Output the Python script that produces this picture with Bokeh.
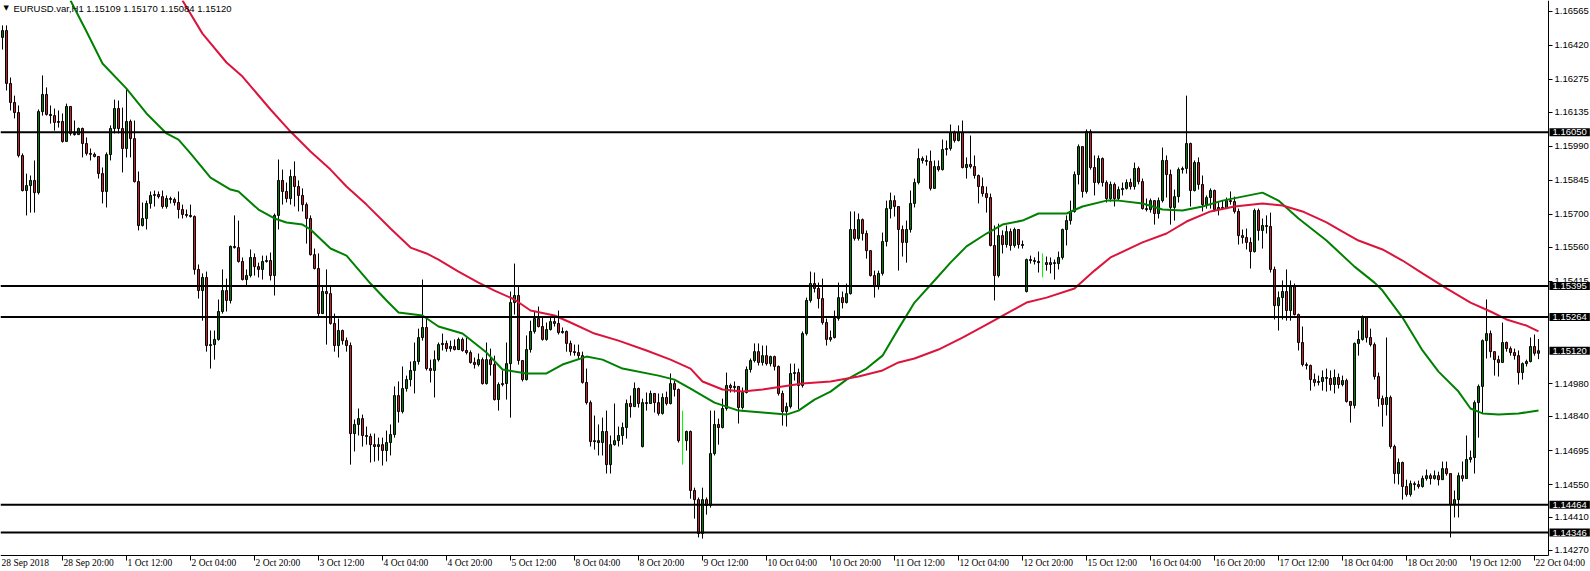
from bokeh.plotting import figure
from bokeh.models import ColumnDataSource, FixedTicker, Label, LabelSet
from bokeh.embed import file_html
from bokeh.resources import INLINE

# ---------------- data (EURUSD H1) ----------------
first_open = 1.16454
open_gaps = {160: 1.14712, 256: 1.15372}

closes = [
1.16483,1.16258,1.16177,1.16134,1.15951,1.15802,1.15823,1.15845,1.15793,1.16138,
1.16211,1.16126,1.16121,1.16092,1.16096,1.16011,1.16160,1.16045,1.16040,1.16066,
1.16002,1.15960,1.15956,1.15947,1.15874,1.15798,1.15955,1.16066,1.16151,1.16066,
1.15981,1.16096,1.16023,1.15840,1.15653,1.15683,1.15747,1.15781,1.15785,1.15776,
1.15734,1.15768,1.15764,1.15751,1.15721,1.15700,1.15696,1.15691,1.15466,1.15376,
1.15432,1.15142,1.15146,1.15168,1.15287,1.15376,1.15334,1.15564,1.15559,1.15500,
1.15423,1.15440,1.15517,1.15478,1.15466,1.15500,1.15504,1.15440,1.15696,1.15845,
1.15798,1.15768,1.15862,1.15819,1.15781,1.15742,1.15683,1.15529,1.15470,1.15278,
1.15372,1.15363,1.15236,1.15142,1.15206,1.15163,1.15142,1.14767,1.14806,1.14831,
1.14759,1.14755,1.14720,1.14712,1.14720,1.14695,1.14729,1.14763,1.14929,1.14861,
1.14959,1.14997,1.15036,1.15074,1.15176,1.15219,1.15044,1.15036,1.15082,1.15146,
1.15151,1.15129,1.15138,1.15125,1.15168,1.15121,1.15112,1.15070,1.15061,1.15082,
1.14980,1.15082,1.15061,1.14912,1.14976,1.14980,1.15065,1.15325,1.15355,1.15078,
1.14997,1.15125,1.15202,1.15257,1.15223,1.15168,1.15210,1.15244,1.15236,1.15197,
1.15202,1.15151,1.15116,1.15112,1.15099,1.14985,1.14899,1.14733,1.14737,1.14729,
1.14776,1.14635,1.14720,1.14737,1.14759,1.14793,1.14895,1.14882,1.14959,1.14895,
1.14899,1.14895,1.14938,1.14899,1.14853,1.14921,1.14895,1.14980,1.14955,1.14737,
1.14737,1.14776,1.14525,1.14486,1.14342,1.14486,1.14461,1.14682,1.14806,1.14793,
1.14874,1.14972,1.14963,1.14968,1.14878,1.14942,1.15040,1.15078,1.15116,1.15070,
1.15099,1.15065,1.15095,1.15053,1.14938,1.14861,1.14882,1.15023,1.15027,1.14972,
1.15193,1.15334,1.15406,1.15385,1.15342,1.15240,1.15168,1.15176,1.15257,1.15346,
1.15325,1.15363,1.15636,1.15598,1.15678,1.15619,1.15546,1.15440,1.15393,1.15449,
1.15585,1.15725,1.15759,1.15734,1.15636,1.15581,1.15636,1.15747,1.15836,1.15938,
1.15930,1.15926,1.15811,1.15904,1.15891,1.15977,1.15981,1.16049,1.16015,1.16049,
1.15900,1.15913,1.15904,1.15866,1.15819,1.15789,1.15772,1.15568,1.15440,1.15610,
1.15572,1.15627,1.15568,1.15636,1.15572,1.15568,1.15508,1.15504,1.15500,1.15495,
1.15495,1.15487,1.15495,1.15491,1.15517,1.15636,1.15674,1.15713,1.15870,1.15989,
1.15798,1.16053,1.15900,1.15836,1.15938,1.15836,1.15768,1.15828,1.15768,1.15806,
1.15811,1.15836,1.15819,1.15896,1.15840,1.15725,1.15721,1.15759,1.15704,1.15759,
1.15930,1.15870,1.15730,1.15776,1.15891,1.15896,1.16002,1.15802,1.15921,1.15828,
1.15742,1.15772,1.15802,1.15721,1.15730,1.15725,1.15759,1.15755,1.15713,1.15610,
1.15602,1.15581,1.15542,1.15717,1.15632,1.15653,1.15649,1.15466,1.15312,1.15346,
1.15372,1.15291,1.15393,1.15274,1.15155,1.15061,1.15057,1.14997,1.14985,1.14989,
1.15006,1.15002,1.14976,1.15006,1.14976,1.14993,1.14904,1.14887,1.15151,1.15168,
1.15261,1.15176,1.15146,1.15010,1.14916,1.14891,1.14921,1.14712,1.14597,1.14644,
1.14542,1.14508,1.14554,1.14550,1.14542,1.14576,1.14588,1.14576,1.14588,1.14571,
1.14618,1.14597,1.14465,1.14486,1.14588,1.14576,1.14657,1.14665,1.14899,1.14968,
1.15163,1.15193,1.15116,1.15082,1.15070,1.15155,1.15129,1.15112,1.15099,1.15027,
1.15065,1.15074,1.15138,1.15109,1.15120]

highs = [
1.16505,1.16505,1.16283,1.16206,1.16164,1.15960,1.15874,1.15866,1.15930,1.16147,
1.16292,1.16241,1.16164,1.16151,1.16143,1.16130,1.16172,1.16160,1.16100,1.16070,
1.16070,1.16028,1.15981,1.15964,1.15943,1.15900,1.15964,1.16079,1.16189,1.16185,
1.16155,1.16236,1.16104,1.16100,1.15883,1.15751,1.15759,1.15798,1.15802,1.15798,
1.15802,1.15781,1.15776,1.15772,1.15798,1.15742,1.15721,1.15742,1.15696,1.15487,
1.15449,1.15457,1.15206,1.15206,1.15338,1.15466,1.15427,1.15568,1.15696,1.15674,
1.15517,1.15466,1.15551,1.15534,1.15495,1.15525,1.15525,1.15538,1.15704,1.15934,
1.15891,1.15836,1.15891,1.15926,1.15845,1.15811,1.15751,1.15696,1.15555,1.15534,
1.15393,1.15466,1.15393,1.15278,1.15257,1.15210,1.15176,1.15155,1.14827,1.14874,
1.14848,1.14797,1.14767,1.14767,1.14750,1.14750,1.14780,1.14806,1.14968,1.14989,
1.15053,1.15014,1.15074,1.15155,1.15214,1.15423,1.15261,1.15082,1.15121,1.15155,
1.15193,1.15163,1.15163,1.15168,1.15176,1.15176,1.15176,1.15121,1.15091,1.15108,
1.15091,1.15155,1.15129,1.15099,1.14985,1.15036,1.15155,1.15372,1.15491,1.15393,
1.15078,1.15185,1.15248,1.15287,1.15308,1.15261,1.15240,1.15261,1.15265,1.15291,
1.15219,1.15206,1.15163,1.15146,1.15146,1.15116,1.15044,1.14908,1.14844,1.14806,
1.14835,1.14865,1.14759,1.14895,1.14797,1.14814,1.14912,1.14929,1.14985,1.14963,
1.14916,1.14942,1.14950,1.14938,1.14938,1.14938,1.14946,1.15023,1.14993,1.14959,
1.14865,1.14780,1.14780,1.14537,1.14495,1.14537,1.14495,1.14865,1.14865,1.14831,
1.14916,1.15027,1.14980,1.14989,1.14968,1.14963,1.15053,1.15087,1.15151,1.15151,
1.15142,1.15142,1.15099,1.15099,1.15057,1.14950,1.14899,1.15065,1.15065,1.15044,
1.15202,1.15346,1.15457,1.15453,1.15410,1.15427,1.15257,1.15206,1.15291,1.15410,
1.15372,1.15406,1.15713,1.15713,1.15704,1.15683,1.15632,1.15546,1.15461,1.15461,
1.15623,1.15759,1.15793,1.15781,1.15734,1.15653,1.15674,1.15802,1.15853,1.15981,
1.15947,1.15951,1.15972,1.15930,1.15930,1.16019,1.16015,1.16083,1.16057,1.16079,
1.16100,1.15943,1.16036,1.15951,1.15870,1.15857,1.15819,1.15789,1.15653,1.15661,
1.15632,1.15653,1.15640,1.15644,1.15636,1.15589,1.15512,1.15525,1.15517,1.15542,
1.15534,1.15521,1.15517,1.15508,1.15542,1.15640,1.15696,1.15759,1.15883,1.15998,
1.15989,1.16062,1.16062,1.15951,1.15951,1.15943,1.15845,1.15840,1.15836,1.15819,
1.15836,1.15849,1.15853,1.15921,1.15904,1.15853,1.15768,1.15768,1.15742,1.15772,
1.15985,1.15951,1.15891,1.15806,1.15900,1.15904,1.16206,1.16006,1.15930,1.15943,
1.15866,1.15781,1.15811,1.15806,1.15751,1.15759,1.15772,1.15798,1.15776,1.15725,
1.15636,1.15640,1.15602,1.15725,1.15725,1.15683,1.15696,1.15708,1.15478,1.15372,
1.15419,1.15466,1.15419,1.15406,1.15278,1.15223,1.15070,1.15061,1.15023,1.15014,
1.15036,1.15044,1.15036,1.15040,1.15023,1.15014,1.15001,1.14904,1.15155,1.15206,
1.15270,1.15265,1.15214,1.15155,1.15027,1.14929,1.15176,1.14929,1.14720,1.14661,
1.14648,1.14571,1.14567,1.14563,1.14567,1.14588,1.14614,1.14597,1.14610,1.14605,
1.14648,1.14648,1.14597,1.14525,1.14601,1.14648,1.14759,1.14695,1.14908,1.14976,
1.15168,1.15338,1.15206,1.15116,1.15099,1.15240,1.15159,1.15138,1.15129,1.15121,
1.15070,1.15082,1.15176,1.15189,1.15170]

lows = [
1.16402,1.16228,1.16143,1.16109,1.15943,1.15798,1.15696,1.15708,1.15708,1.15785,
1.16121,1.16121,1.16087,1.16057,1.16070,1.16006,1.16011,1.16036,1.16036,1.16040,
1.15943,1.15951,1.15930,1.15943,1.15853,1.15747,1.15730,1.15930,1.16045,1.16045,
1.15879,1.15943,1.15943,1.15836,1.15632,1.15649,1.15636,1.15725,1.15734,1.15768,
1.15725,1.15725,1.15747,1.15738,1.15683,1.15683,1.15687,1.15687,1.15444,1.15342,
1.15248,1.15116,1.15044,1.15082,1.15163,1.15278,1.15287,1.15321,1.15555,1.15495,
1.15419,1.15398,1.15432,1.15440,1.15432,1.15423,1.15495,1.15419,1.15355,1.15636,
1.15742,1.15751,1.15742,1.15734,1.15713,1.15713,1.15576,1.15525,1.15466,1.15261,
1.15278,1.15146,1.15231,1.15116,1.15091,1.15146,1.15116,1.14635,1.14691,1.14759,
1.14712,1.14720,1.14644,1.14648,1.14652,1.14631,1.14648,1.14674,1.14750,1.14814,
1.14853,1.14946,1.14968,1.14938,1.15061,1.15163,1.15036,1.14985,1.14921,1.15074,
1.15121,1.15116,1.15116,1.15121,1.15125,1.15116,1.15104,1.15065,1.15044,1.15053,
1.14976,1.14976,1.15014,1.14908,1.14865,1.14968,1.14912,1.14835,1.15274,1.15061,
1.14989,1.14993,1.15112,1.15193,1.15219,1.15163,1.15163,1.15206,1.15223,1.15189,
1.15193,1.15116,1.15099,1.15099,1.15082,1.14980,1.14891,1.14712,1.14699,1.14674,
1.14674,1.14597,1.14597,1.14716,1.14712,1.14720,1.14746,1.14835,1.14882,1.14878,
1.14708,1.14865,1.14895,1.14857,1.14844,1.14848,1.14887,1.14891,1.14925,1.14729,
1.14635,1.14695,1.14490,1.14405,1.14325,1.14320,1.14422,1.14452,1.14674,1.14720,
1.14789,1.14865,1.14942,1.14942,1.14810,1.14870,1.14938,1.15027,1.15070,1.15057,
1.15057,1.15057,1.15053,1.15036,1.14929,1.14801,1.14797,1.14874,1.14993,1.14870,
1.14963,1.15185,1.15325,1.15368,1.15300,1.15231,1.15142,1.15159,1.15172,1.15248,
1.15300,1.15321,1.15359,1.15589,1.15589,1.15589,1.15512,1.15436,1.15346,1.15380,
1.15440,1.15564,1.15683,1.15691,1.15461,1.15521,1.15495,1.15623,1.15730,1.15828,
1.15917,1.15908,1.15802,1.15887,1.15883,1.15887,1.15951,1.15972,1.16006,1.16011,
1.15896,1.15853,1.15896,1.15853,1.15747,1.15776,1.15708,1.15564,1.15334,1.15432,
1.15534,1.15559,1.15546,1.15559,1.15555,1.15555,1.15368,1.15491,1.15487,1.15453,
1.15432,1.15461,1.15449,1.15423,1.15466,1.15508,1.15568,1.15657,1.15708,1.15828,
1.15772,1.15789,1.15891,1.15781,1.15828,1.15819,1.15751,1.15755,1.15734,1.15759,
1.15781,1.15806,1.15806,1.15806,1.15828,1.15721,1.15713,1.15708,1.15657,1.15683,
1.15751,1.15772,1.15657,1.15674,1.15751,1.15874,1.15874,1.15734,1.15798,1.15806,
1.15713,1.15725,1.15725,1.15713,1.15696,1.15721,1.15725,1.15742,1.15704,1.15572,
1.15576,1.15551,1.15470,1.15538,1.15589,1.15555,1.15619,1.15453,1.15253,1.15206,
1.15253,1.15248,1.15248,1.15270,1.15121,1.15053,1.15040,1.14950,1.14968,1.14972,
1.14950,1.14946,1.14950,1.14938,1.14959,1.14968,1.14899,1.14814,1.14874,1.15099,
1.15163,1.15155,1.15138,1.14997,1.14882,1.14797,1.14844,1.14703,1.14554,1.14550,
1.14486,1.14499,1.14499,1.14525,1.14533,1.14537,1.14567,1.14550,1.14571,1.14546,
1.14580,1.14588,1.14325,1.14410,1.14410,1.14563,1.14588,1.14644,1.14597,1.14750,
1.14853,1.15087,1.15091,1.15014,1.15010,1.15070,1.15116,1.15099,1.15082,1.14976,
1.14997,1.15053,1.15070,1.15099,1.15084]

# moving averages (bar index, price)
ma_green_idx = [17,21,25,31,36,41,44,47,52,57,59,64,68,71,75,77,82,86,92,96,99,105,109,115,121,125,
                131,136,140,146,150,155,164,168,172,178,184,190,196,199,203,207,211,216,220,224,228,
                233,237,241,246,250,255,259,263,266,270,276,279,285,290,295,300,305,310,315,319,324,
                331,338,343,345,350,355,359,364,367,370,374,379,384]
ma_green_val = [1.16611,1.16479,1.16343,1.16236,1.16130,1.16045,1.16019,1.15960,1.15857,1.15806,1.15798,
                1.15721,1.15683,1.15666,1.15657,1.15636,1.15555,1.15525,1.15406,1.15334,1.15283,1.15270,
                1.15223,1.15193,1.15112,1.15040,1.15023,1.15023,1.15061,1.15095,1.15082,1.15044,1.15014,
                1.14997,1.14959,1.14899,1.14865,1.14857,1.14848,1.14865,1.14912,1.14946,1.14997,1.15044,
                1.15099,1.15214,1.15325,1.15419,1.15495,1.15564,1.15619,1.15657,1.15674,1.15704,1.15704,
                1.15704,1.15734,1.15759,1.15759,1.15747,1.15721,1.15717,1.15734,1.15759,1.15776,1.15793,
                1.15759,1.15683,1.15589,1.15478,1.15410,1.15376,1.15261,1.15121,1.15031,1.14946,1.14874,
                1.14853,1.14848,1.14853,1.14865]
ma_red_idx = [45,50,56,60,67,72,77,82,86,91,97,102,106,109,114,119,123,128,132,138,142,148,154,161,167,
              172,175,180,185,190,195,200,207,214,220,224,228,234,240,246,252,256,261,268,273,277,285,
              291,296,302,308,315,320,325,331,335,339,345,350,355,361,367,372,376,381,384]
ma_red_val = [1.16611,1.16470,1.16347,1.16287,1.16147,1.16053,1.15968,1.15891,1.15819,1.15742,1.15640,
              1.15559,1.15534,1.15508,1.15457,1.15410,1.15376,1.15338,1.15291,1.15270,1.15240,1.15193,
              1.15163,1.15121,1.15082,1.15044,1.14989,1.14955,1.14946,1.14955,1.14968,1.14980,1.14989,
              1.15010,1.15036,1.15070,1.15087,1.15125,1.15176,1.15231,1.15287,1.15325,1.15346,1.15385,
              1.15461,1.15517,1.15581,1.15619,1.15670,1.15713,1.15734,1.15747,1.15738,1.15713,1.15666,
              1.15627,1.15589,1.15551,1.15504,1.15449,1.15385,1.15325,1.15287,1.15253,1.15227,1.15202]

levels = [1.16050, 1.15395, 1.15264, 1.14464, 1.14346]
price_ticks = [1.16565, 1.16420, 1.16275, 1.16135, 1.15990, 1.15845, 1.15700, 1.15560, 1.15415,
               1.14980, 1.14840, 1.14695, 1.14550, 1.14410, 1.14270]
date_tick_idx = [15, 31, 47, 63, 79, 95, 111, 127, 143, 159, 175, 191, 207, 223, 239, 255,
                 271, 287, 303, 319, 335, 351, 367, 383]
date_tick_labels = ["28 Sep 20:00", "1 Oct 12:00", "2 Oct 04:00", "2 Oct 20:00", "3 Oct 12:00",
                    "4 Oct 04:00", "4 Oct 20:00", "5 Oct 12:00", "8 Oct 04:00", "8 Oct 20:00",
                    "9 Oct 12:00", "10 Oct 04:00", "10 Oct 20:00", "11 Oct 12:00", "12 Oct 04:00",
                    "12 Oct 20:00", "15 Oct 12:00", "16 Oct 04:00", "16 Oct 20:00", "17 Oct 12:00",
                    "18 Oct 04:00", "18 Oct 20:00", "19 Oct 12:00", "22 Oct 04:00"]
first_date_label = "28 Sep 2018"
title_text = "EURUSD.var,H1  1.15109 1.15170 1.15084 1.15120"

# ---------------- build candles ----------------
n = len(closes)
opens = [first_open] + closes[:-1]
for k, v in open_gaps.items():
    opens[k] = v

idx = list(range(n))
doji = [round(o, 5) == round(c, 5) for o, c in zip(opens, closes)]
tops = [max(o, c) for o, c in zip(opens, closes)]
bots = [min(o, c) for o, c in zip(opens, closes)]
wick_hi = [max(h, t) for h, t in zip(highs, tops)]
wick_lo = [min(l, b) for l, b in zip(lows, bots)]

BULL = "#008000"
BEAR = "#c81e2a"
nd = [i for i in idx if not doji[i]]
dj = [i for i in idx if doji[i]]
body_src = ColumnDataSource(dict(
    x=nd, top=[tops[i] for i in nd], bottom=[bots[i] for i in nd],
    color=[BULL if closes[i] > opens[i] else BEAR for i in nd]))
wick_src = ColumnDataSource(dict(x=nd, hi=[wick_hi[i] for i in nd], lo=[wick_lo[i] for i in nd]))
doji_src = ColumnDataSource(dict(x=dj, hi=[wick_hi[i] for i in dj], lo=[wick_lo[i] for i in dj]))

FONT = "Liberation Sans"
FS = "9.5px"
# the frame covers the whole canvas; price area ends at the axes below / right
X0, X1 = -0.5, 397.0          # full canvas width in bar units
XAX = 386.5                    # price scale position
Y0, Y1 = 1.14180, 1.16611      # full canvas height in price units
YAX = 1.14248                  # time scale position

p = figure(width=1590, height=571, x_range=(X0, X1), y_range=(Y0, Y1),
           output_backend="svg", toolbar_location=None, y_axis_location="right",
           min_border_left=0, min_border_top=0, min_border_right=0, min_border_bottom=0)
p.outline_line_color = None
p.xgrid.visible = False
p.ygrid.visible = False
p.background_fill_color = "white"
p.border_fill_color = "white"

# price scale
p.yaxis.fixed_location = XAX
p.yaxis.bounds = (YAX, Y1)
p.yaxis.ticker = FixedTicker(ticks=price_ticks)
p.yaxis.major_label_overrides = {t: f"{t:.5f}" for t in price_ticks}
p.yaxis.major_tick_in = 0
p.yaxis.major_tick_out = 4
p.yaxis.minor_tick_out = 0
p.yaxis.minor_tick_in = 0
p.yaxis.major_label_standoff = 2
p.yaxis.major_label_text_font = FONT
p.yaxis.major_label_text_font_size = FS
p.yaxis.major_label_text_color = "black"
p.yaxis.axis_line_color = "black"

# time scale (tick marks; labels are left-aligned text next to each tick)
p.xaxis.fixed_location = YAX
p.xaxis.bounds = (X0, XAX)
p.xaxis.ticker = FixedTicker(ticks=date_tick_idx)
p.xaxis.major_label_overrides = {t: "" for t in date_tick_idx}
p.xaxis.major_tick_in = 0
p.xaxis.major_tick_out = 5
p.xaxis.minor_tick_out = 0
p.xaxis.minor_tick_in = 0
p.xaxis.axis_line_color = "black"

# candles
p.segment(x0="x", y0="lo", x1="x", y1="hi", source=wick_src, line_color="black", line_width=1)
p.segment(x0="x", y0="lo", x1="x", y1="hi", source=doji_src, line_color="#00ff00", line_width=1)
p.vbar(x="x", width=0.5, top="top", bottom="bottom", source=body_src,
       fill_color="color", line_color="black", line_width=1)

# moving averages
p.line(ma_green_idx, ma_green_val, line_color="#008000", line_width=2)
p.line(ma_red_idx, ma_red_val, line_color="#dc143c", line_width=2)

# level lines up to the price scale
p.segment(x0=[X0] * len(levels), y0=levels, x1=[XAX] * len(levels), y1=levels,
          line_color="black", line_width=2)

# date labels
date_src = ColumnDataSource(dict(
    x=[X0] + date_tick_idx,
    y=[YAX] * (len(date_tick_idx) + 1),
    text=[first_date_label] + date_tick_labels,
))
p.add_layout(LabelSet(x="x", y="y", text="text", source=date_src, x_offset=1, y_offset=-2,
                      text_align="left", text_baseline="top", text_font=FONT,
                      text_font_size=FS, text_color="black"))

# boxed price labels on the price scale
for lv in levels + [closes[-1]]:
    p.add_layout(Label(x=XAX, y=lv, x_offset=1, text=f"{lv:.5f}", text_align="left",
                       text_baseline="middle", text_font=FONT, text_font_size=FS,
                       text_color="white", background_fill_color="black",
                       background_fill_alpha=1.0,
                       padding=dict(left=3, right=3, top=1, bottom=1)))

# title
p.add_layout(Label(x=X0, y=Y1, x_offset=3, y_offset=-3, text="\u25bc", text_align="left",
                   text_baseline="top", text_font="DejaVu Sans", text_font_size="7px",
                   text_color="black"))
p.add_layout(Label(x=X0, y=Y1, x_offset=13, y_offset=-2, text=title_text, text_align="left",
                   text_baseline="top", text_font=FONT, text_font_size=FS, text_color="black"))

open("out.html", "w").write(file_html(p, INLINE))
